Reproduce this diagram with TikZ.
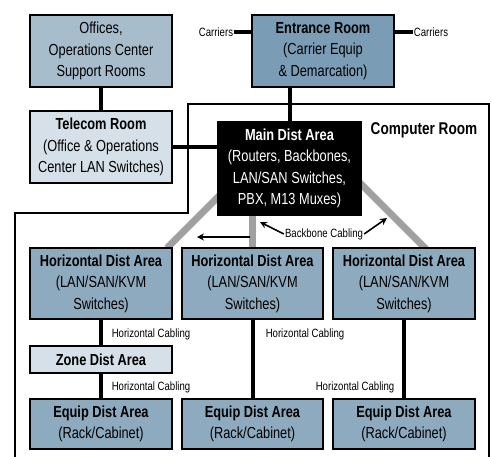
\documentclass[tikz,border=0pt]{standalone}
\usepackage{fontspec}
\setmainfont{Liberation Sans}[FakeStretch=0.8]
\usetikzlibrary{arrows.meta}
\definecolor{midblue}{HTML}{8EAABF}
\definecolor{darkblue}{HTML}{7A9DB5}
\definecolor{paleblue}{HTML}{A7BDCC}
\definecolor{lightblue}{HTML}{D5E0E8}
\definecolor{bbgray}{HTML}{A0A0A0}
\begin{document}
\begin{tikzpicture}[x=1pt,y=-1pt,
  box/.style={draw=black, line width=2.5pt, minimum width=142pt, minimum height=72pt,
    inner sep=0pt, align=center, font=\fontsize{16}{21.5}\selectfont},
  conn/.style={line width=4pt, draw=black},
  backbone/.style={line width=7pt, draw=bbgray},
  lbl/.style={font=\fontsize{12}{14}\selectfont, inner sep=1pt},
  arr/.style={line width=1.6pt, -{Stealth[length=7pt,width=7pt]}},
  room/.style={line width=2pt, draw=black}
]
\useasboundingbox (0,0) rectangle (492,456);
\fill[white] (0,0) rectangle (492,456);

% computer room outline
\draw[room] (15,470) -- (15,213) -- (188,213) -- (188,104) -- (489,104) -- (489,470);
\node[font=\fontsize{17}{20}\selectfont\bfseries, anchor=center] (cr) at (424,130) {Computer Room};

% backbone gray lines (behind boxes)
\coordinate (bl1) at (167,248); \coordinate (bl2) at (232,183);
\coordinate (bm1) at (252,200); \coordinate (bm2) at (252,248);
\coordinate (br1) at (348,171); \coordinate (br2) at (428,251);
\draw[backbone] (bl1) -- (bl2);
\draw[backbone] (bm1) -- (bm2);
\draw[backbone] (br1) -- (br2);

% boxes
\node[box, fill=paleblue] (off) at (101,51) {Offices,\\Operations Center\\Support Rooms};
\node[box, fill=lightblue] (tel) at (101,147) {\textbf{Telecom Room}\\(Office \& Operations\\Center LAN Switches)};
\node[box, fill=darkblue] (er) at (323,51) {\textbf{Entrance Room}\\(Carrier Equip\\\& Demarcation)};
\node[box, fill=black, text=white, minimum width=143pt, minimum height=93pt] (mda) at (289.5,168.5)
  {\textbf{Main Dist Area}\\(Routers, Backbones,\\LAN/SAN Switches,\\PBX, M13 Muxes)};

\node[box, fill=midblue, minimum height=71pt] (h1) at (101,283.5) {\textbf{Horizontal Dist Area}\\(LAN/SAN/KVM\\Switches)};
\node[box, fill=midblue, minimum width=141pt, minimum height=71pt] (h2) at (252.5,283.5) {\textbf{Horizontal Dist Area}\\(LAN/SAN/KVM\\Switches)};
\node[box, fill=midblue, minimum height=71pt] (h3) at (404,283.5) {\textbf{Horizontal Dist Area}\\(LAN/SAN/KVM\\Switches)};

\node[box, fill=lightblue, minimum height=27pt] (zda) at (101,359.5) {\textbf{Zone Dist Area}};

\node[box, fill=midblue, minimum height=50pt] (e1) at (101,424) {\textbf{Equip Dist Area}\\(Rack/Cabinet)};
\node[box, fill=midblue, minimum width=141pt, minimum height=50pt] (e2) at (252.5,424) {\textbf{Equip Dist Area}\\(Rack/Cabinet)};
\node[box, fill=midblue, minimum height=50pt] (e3) at (404,424) {\textbf{Equip Dist Area}\\(Rack/Cabinet)};

% carriers
\node[lbl] (cl) at (216,32) {Carriers};
\node[lbl] (cr2) at (431,32) {Carriers};
\draw[conn] (cl.east) -- (cl.east -| er.west);
\draw[conn] (cr2.west) -- (cr2.west -| er.east);

% black connectors
\draw[conn] (off.south) -- (tel.north);
\draw[conn] (tel.east) -- (tel.east -| mda.west);
\draw[conn] (mda.north) -- (mda.north |- er.south);
\draw[conn] (h1.south) -- (zda.north);
\draw[conn] (zda.south) -- (e1.north);
\draw[conn] (h2.south) -- (e2.north);
\draw[conn] (h3.south) -- (e3.north);

% horizontal cabling labels
\node[lbl] (hc1) at (151,334) {Horizontal Cabling};
\node[lbl] (hc2) at (151,387) {Horizontal Cabling};
\node[lbl] (hc3) at (305,334) {Horizontal Cabling};
\node[lbl] (hc4) at (355,387) {Horizontal Cabling};

% backbone cabling label and arrows
\node[lbl] (bb) at (324,234) {Backbone Cabling};
\coordinate (a1) at (260,222);
\coordinate (a2) at (387,218);
\coordinate (a3s) at (250,237);
\coordinate (a3e) at (197,237);
\draw[arr] (bb.west) -- (a1);
\draw[arr] (bb.east) -- (a2);
\draw[arr] (a3s) -- (a3e);
\end{tikzpicture}
\end{document}
